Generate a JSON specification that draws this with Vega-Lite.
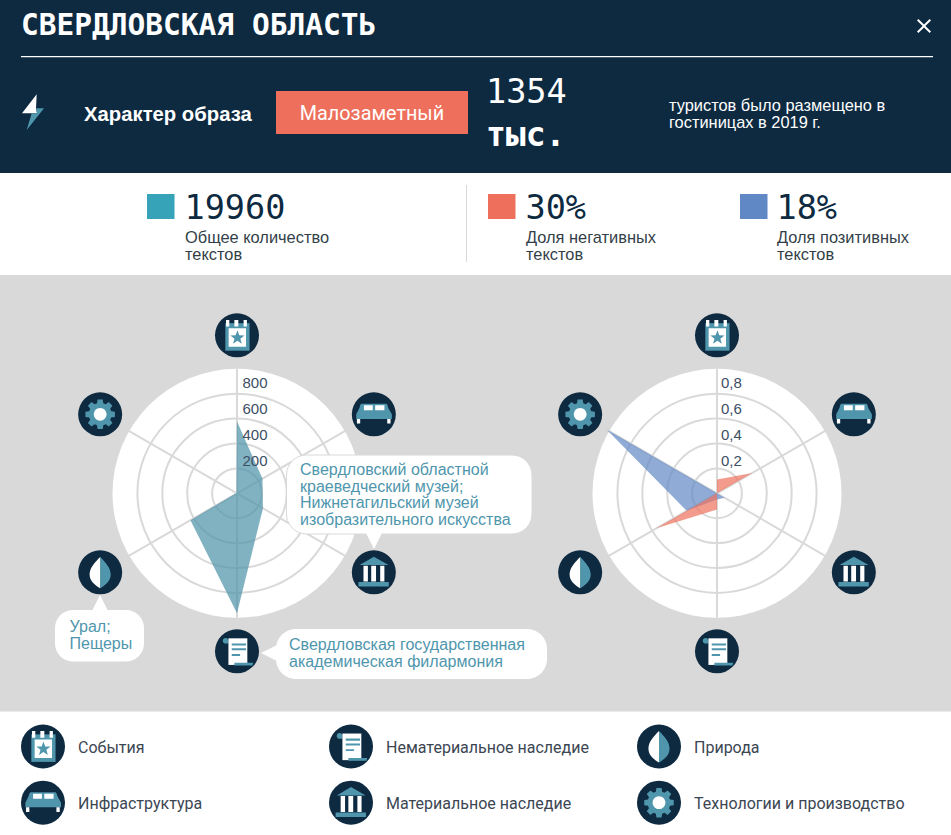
{"$schema":"https://vega.github.io/schema/vega-lite/v6.json","width":951,"height":835,"padding":0,"autosize":{"type":"none"},"background":"#ffffff",
"config":{"view":{"stroke":null},"axis":{"disable":true},"legend":{"disable":true},"text":{"baseline":"alphabetic","align":"left"}},
"datasets":{
"radar":[
{"chart":"tone","series":"positive","axis":"События","order":0,"value":0},
{"chart":"tone","series":"positive","axis":"Инфраструктура","order":1,"value":0},
{"chart":"tone","series":"positive","axis":"Материальное наследие","order":2,"value":0.07},
{"chart":"tone","series":"positive","axis":"Нематериальное наследие","order":3,"value":0.05},
{"chart":"tone","series":"positive","axis":"Природа","order":4,"value":0.28},
{"chart":"tone","series":"positive","axis":"Технологии и производство","order":5,"value":1.02},
{"chart":"tone","series":"negative","axis":"События","order":0,"value":0.11},
{"chart":"tone","series":"negative","axis":"Инфраструктура","order":1,"value":0.325},
{"chart":"tone","series":"negative","axis":"Материальное наследие","order":2,"value":0},
{"chart":"tone","series":"negative","axis":"Нематериальное наследие","order":3,"value":0.13},
{"chart":"tone","series":"negative","axis":"Природа","order":4,"value":0.56},
{"chart":"tone","series":"negative","axis":"Технологии и производство","order":5,"value":0},
{"chart":"volume","series":"volume","axis":"События","order":0,"value":575},
{"chart":"volume","series":"volume","axis":"Инфраструктура","order":1,"value":235},
{"chart":"volume","series":"volume","axis":"Материальное наследие","order":2,"value":240},
{"chart":"volume","series":"volume","axis":"Нематериальное наследие","order":3,"value":960},
{"chart":"volume","series":"volume","axis":"Природа","order":4,"value":430},
{"chart":"volume","series":"volume","axis":"Технологии и производство","order":5,"value":5}],
"ticks":[
{"chart":"volume","tick":200,"label":"200"},{"chart":"volume","tick":400,"label":"400"},{"chart":"volume","tick":600,"label":"600"},{"chart":"volume","tick":800,"label":"800"},{"chart":"volume","tick":1000,"label":""},
{"chart":"tone","tick":0.2,"label":"0,2"},{"chart":"tone","tick":0.4,"label":"0,4"},{"chart":"tone","tick":0.6,"label":"0,6"},{"chart":"tone","tick":0.8,"label":"0,8"},{"chart":"tone","tick":1,"label":""}],
"axes":[
{"axis":"События","order":0,"col":0,"row":0},
{"axis":"Инфраструктура","order":1,"col":0,"row":1},
{"axis":"Материальное наследие","order":2,"col":1,"row":1},
{"axis":"Нематериальное наследие","order":3,"col":1,"row":0},
{"axis":"Природа","order":4,"col":2,"row":0},
{"axis":"Технологии и производство","order":5,"col":2,"row":1}],
"stats":[
{"metric":"total","value":"19960","label":["Общее количество","текстов"],"slot":0},
{"metric":"negative","value":"30%","label":["Доля негативных","текстов"],"slot":1},
{"metric":"positive","value":"18%","label":["Доля позитивных","текстов"],"slot":2}]},
"layer":[
{"data":{"values":[{"panel":"page"}]},"mark":{"type":"rect","fill":"#ffffff"},"encoding":{"x":{"datum":0,"type":"quantitative","scale":{"nice":false,"zero":false,"range":[0,951]}},"x2":{"datum":951},"y":{"datum":0,"type":"quantitative","scale":{"nice":false,"zero":false,"range":[0,835]}},"y2":{"datum":835}}},
{"data":{"values":[{"panel":"header"}]},"mark":{"type":"rect","fill":"#0d2a41"},"encoding":{"x":{"datum":0,"type":"quantitative"},"x2":{"datum":951},"y":{"datum":0,"type":"quantitative"},"y2":{"datum":173}}},
{"data":{"values":[{"panel":"charts"}]},"mark":{"type":"rect","fill":"#d9d9d9"},"encoding":{"x":{"datum":0,"type":"quantitative"},"x2":{"datum":951},"y":{"datum":275,"type":"quantitative"},"y2":{"datum":711.5}}},
{"data":{"values":[{"t":"СВЕРДЛОВСКАЯ ОБЛАСТЬ"}]},"mark":{"type":"text","font":"DejaVu Sans Mono","fontWeight":"bold","fontSize":29.5,"fill":"#ffffff"},"encoding":{"x":{"datum":21,"type":"quantitative"},"y":{"datum":35,"type":"quantitative"},"text":{"field":"t","type":"nominal"}}},
{"data":{"values":[{"p":"rule"}]},"mark":{"type":"rule","stroke":"#ffffff","strokeWidth":1.2},"encoding":{"x":{"datum":21,"type":"quantitative"},"x2":{"datum":933},"y":{"datum":56.7,"type":"quantitative"}}},
{"data":{"values":[{"p":"close"}]},"mark":{"type":"point","filled":true,"fill":"#ffffff","opacity":1,"size":196,"shape":"M-.8,-1L0,-.2L.8,-1L1,-.8L.2,0L1,.8L.8,1L0,.2L-.8,1L-1,.8L-.2,0L-1,-.8Z"},"encoding":{"x":{"datum":924,"type":"quantitative"},"y":{"datum":26,"type":"quantitative"}}},
{"data":{"values":[{"p":"bolt"}]},"mark":{"type":"point","filled":true,"fill":"#ffffff","opacity":1,"size":1600,"shape":"M.185,-.885L-.55,.065L.2,.065L.15,-.185Z"},"encoding":{"x":{"datum":33,"type":"quantitative"},"y":{"datum":112,"type":"quantitative"}}},
{"data":{"values":[{"p":"bolt"}]},"mark":{"type":"point","filled":true,"fill":"#4f96ad","opacity":1,"size":1600,"shape":"M-.315,.9L.55,-.185L.15,-.185L.2,.065L-.065,.065Z"},"encoding":{"x":{"datum":33,"type":"quantitative"},"y":{"datum":112,"type":"quantitative"}}},
{"data":{"values":[{"t":"Характер образа"}]},"mark":{"type":"text","font":"Liberation Sans","fontWeight":"bold","fontSize":20.3,"fill":"#ffffff"},"encoding":{"x":{"datum":84,"type":"quantitative"},"y":{"datum":120.5,"type":"quantitative"},"text":{"field":"t","type":"nominal"}}},
{"data":{"values":[{"p":"badge"}]},"mark":{"type":"rect","fill":"#ee705c"},"encoding":{"x":{"datum":276,"type":"quantitative"},"x2":{"datum":468},"y":{"datum":91,"type":"quantitative"},"y2":{"datum":134}}},
{"data":{"values":[{"t":"Малозаметный"}]},"mark":{"type":"text","font":"Roboto","fontSize":19.8,"fill":"#ffffff","align":"center"},"encoding":{"x":{"datum":372,"type":"quantitative"},"y":{"datum":120,"type":"quantitative"},"text":{"field":"t","type":"nominal"}}},
{"data":{"values":[{"t":"1354"}]},"mark":{"type":"text","font":"DejaVu Sans Mono","fontSize":33.5,"fill":"#ffffff"},"encoding":{"x":{"datum":486,"type":"quantitative"},"y":{"datum":103,"type":"quantitative"},"text":{"field":"t","type":"nominal"}}},
{"data":{"values":[{"t":"тыс."}]},"mark":{"type":"text","font":"DejaVu Sans Mono","fontWeight":"bold","fontSize":33,"fill":"#ffffff"},"encoding":{"x":{"datum":486,"type":"quantitative"},"y":{"datum":146,"type":"quantitative"},"text":{"field":"t","type":"nominal"}}},
{"data":{"values":[{"t":["туристов было размещено в","гостиницах в 2019 г."]}]},"mark":{"type":"text","font":"Liberation Sans","fontSize":16.4,"lineHeight":17,"fill":"#ffffff"},"encoding":{"x":{"datum":669,"type":"quantitative"},"y":{"datum":111,"type":"quantitative"},"text":{"field":"t","type":"nominal"}}},
{"data":{"values":[{"p":"divider"}]},"mark":{"type":"rule","stroke":"#d9d9d9","strokeWidth":1},"encoding":{"x":{"datum":466.5,"type":"quantitative"},"y":{"datum":185,"type":"quantitative"},"y2":{"datum":262}}},
{"data":{"name":"stats"},"mark":{"type":"rect"},"transform":[{"calculate":"[147,488,740][datum.slot]","as":"left"},{"calculate":"datum.left+27.5","as":"right"}],"encoding":{"x":{"field":"left","type":"quantitative"},"x2":{"field":"right"},"y":{"datum":194,"type":"quantitative"},"y2":{"datum":219},"fill":{"field":"metric","type":"nominal","scale":{"domain":["total","negative","positive","volume","navy","base","light","over"],"range":["#36a3b9","#ee705c","#5f88c4","#4c91a6","#0d2a41","#4f96ad","#ffffff","#4f96ad"]}}}},
{"data":{"name":"stats"},"transform":[{"calculate":"[184.5,525.5,776.5][datum.slot]","as":"px"}],"mark":{"type":"text","font":"DejaVu Sans Mono","fontSize":33.5,"fill":"#0d2a41"},"encoding":{"x":{"field":"px","type":"quantitative"},"y":{"datum":219,"type":"quantitative"},"text":{"field":"value","type":"nominal"}}},
{"data":{"name":"stats"},"transform":[{"calculate":"[185,526,777][datum.slot]","as":"px"}],"mark":{"type":"text","font":"Liberation Sans","fontSize":16.4,"lineHeight":17,"fill":"#333f48"},"encoding":{"x":{"field":"px","type":"quantitative"},"y":{"datum":243,"type":"quantitative"},"text":{"field":"label","type":"nominal"}}},
{"data":{"name":"ticks"},"transform":[{"calculate":"datum.chart=='volume'?datum.tick/1000:datum.tick","as":"norm"},{"calculate":"datum.chart=='volume'?237:717","as":"cx"},{"filter":"datum.norm==1"},{"calculate":"493.3","as":"cy"}],"mark":{"type":"point","filled":true,"fill":"#ffffff","opacity":1,"shape":"circle"},"encoding":{"x":{"field":"cx","type":"quantitative"},"y":{"field":"cy","type":"quantitative"},"size":{"field":"norm","type":"quantitative","scale":{"type":"pow","exponent":2,"domain":[0,1],"range":[0,62000]}}}},
{"data":{"name":"ticks"},"transform":[{"calculate":"datum.chart=='volume'?datum.tick/1000:datum.tick","as":"norm"},{"calculate":"datum.chart=='volume'?237:717","as":"cx"},{"filter":"datum.norm<1"},{"calculate":"493.3","as":"cy"}],"mark":{"type":"point","filled":false,"stroke":"#d9d9d9","strokeWidth":2,"opacity":1,"shape":"circle"},"encoding":{"x":{"field":"cx","type":"quantitative"},"y":{"field":"cy","type":"quantitative"},"size":{"field":"norm","type":"quantitative"}}},
{"data":{"name":"axes"},"transform":[{"calculate":"['volume','tone']","as":"chart"},{"flatten":["chart"]},{"calculate":"datum.chart=='volume'?237:717","as":"cx"},{"calculate":"datum.order*PI/3","as":"ang"},{"calculate":"datum.cx+124.5*sin(datum.ang)","as":"ex"},{"calculate":"493.3-124.5*cos(datum.ang)","as":"ey"},{"calculate":"493.3","as":"cy"}],"mark":{"type":"rule","stroke":"#d9d9d9","strokeWidth":2},"encoding":{"x":{"field":"cx","type":"quantitative"},"y":{"field":"cy","type":"quantitative"},"x2":{"field":"ex"},"y2":{"field":"ey"}}},
{"data":{"name":"radar"},"transform":[{"calculate":"datum.chart=='volume'?datum.value/1000:datum.value","as":"norm"},{"calculate":"datum.chart=='volume'?237:717","as":"cx"},{"calculate":"datum.order*PI/3","as":"ang"},{"calculate":"datum.cx+125*datum.norm*sin(datum.ang)","as":"px"},{"calculate":"493.3-125*datum.norm*cos(datum.ang)","as":"py"}],"mark":{"type":"line","interpolate":"linear-closed","stroke":null,"fillOpacity":0.7},"encoding":{"x":{"field":"px","type":"quantitative"},"y":{"field":"py","type":"quantitative"},"order":{"field":"order"},"detail":{"field":"series"},"fill":{"field":"series","type":"nominal"}}},
{"data":{"name":"ticks"},"transform":[{"calculate":"datum.chart=='volume'?datum.tick/1000:datum.tick","as":"norm"},{"filter":"datum.norm<1"},{"calculate":"datum.chart=='volume'?242.5:721","as":"px"},{"calculate":"492-130*datum.norm","as":"py"}],"mark":{"type":"text","font":"Liberation Sans","fontSize":15,"fill":"#3c4e64"},"encoding":{"x":{"field":"px","type":"quantitative"},"y":{"field":"py","type":"quantitative"},"text":{"field":"label","type":"nominal"}}},
{"data":{"values":[{"p":"b1"}]},"mark":{"type":"rect","fill":"#ffffff","stroke":"#d9d9d9","strokeWidth":1,"cornerRadius":20},"encoding":{"x":{"datum":286.5,"type":"quantitative"},"x2":{"datum":532},"y":{"datum":455,"type":"quantitative"},"y2":{"datum":534}}},
{"data":{"values":[{"p":"b1"}]},"mark":{"type":"point","filled":true,"fill":"#ffffff","opacity":1,"size":256,"shape":"M-1,-1L1,-1L0,1Z"},"encoding":{"x":{"datum":374,"type":"quantitative"},"y":{"datum":541,"type":"quantitative"}}},
{"data":{"values":[{"t":["Свердловский областной","краеведческий музей;","Нижнетагильский музей","изобразительного искусства"]}]},"mark":{"type":"text","font":"Liberation Sans","fontSize":16.05,"lineHeight":16.7,"fill":"#4f96ad"},"encoding":{"x":{"datum":300,"type":"quantitative"},"y":{"datum":475,"type":"quantitative"},"text":{"field":"t","type":"nominal"}}},
{"data":{"values":[{"p":"b2"}]},"mark":{"type":"rect","fill":"#ffffff","cornerRadius":20},"encoding":{"x":{"datum":276,"type":"quantitative"},"x2":{"datum":547},"y":{"datum":629,"type":"quantitative"},"y2":{"datum":679}}},
{"data":{"values":[{"p":"b2"}]},"mark":{"type":"point","filled":true,"fill":"#ffffff","opacity":1,"size":324,"angle":90,"shape":"M-1,-1L1,-1L0,1Z"},"encoding":{"x":{"datum":270,"type":"quantitative"},"y":{"datum":653,"type":"quantitative"}}},
{"data":{"values":[{"t":["Свердловская государственная","академическая филармония"]}]},"mark":{"type":"text","font":"Liberation Sans","fontSize":16.05,"lineHeight":16.7,"fill":"#4f96ad"},"encoding":{"x":{"datum":289,"type":"quantitative"},"y":{"datum":650,"type":"quantitative"},"text":{"field":"t","type":"nominal"}}},
{"data":{"values":[{"p":"b3"}]},"mark":{"type":"rect","fill":"#ffffff","cornerRadius":18},"encoding":{"x":{"datum":55,"type":"quantitative"},"x2":{"datum":144},"y":{"datum":610,"type":"quantitative"},"y2":{"datum":661.5}}},
{"data":{"values":[{"p":"b3"}]},"mark":{"type":"point","filled":true,"fill":"#ffffff","opacity":1,"size":256,"angle":180,"shape":"M-1,-1L1,-1L0,1Z"},"encoding":{"x":{"datum":100,"type":"quantitative"},"y":{"datum":603,"type":"quantitative"}}},
{"data":{"values":[{"t":["Урал;","Пещеры"]}]},"mark":{"type":"text","font":"Liberation Sans","fontSize":16.05,"lineHeight":16.7,"fill":"#4f96ad"},"encoding":{"x":{"datum":69.5,"type":"quantitative"},"y":{"datum":632,"type":"quantitative"},"text":{"field":"t","type":"nominal"}}},
{"data":{"name":"axes"},"transform":[{"calculate":"['volume','tone','legend']","as":"chart"},{"flatten":["chart"]},{"calculate":"datum.order*PI/3","as":"ang"},{"calculate":"datum.chart=='legend'?43+308*datum.col:(datum.chart=='volume'?237:717)+158*sin(datum.ang)","as":"px"},{"calculate":"datum.chart=='legend'?746.5+56.2*datum.row:493.3-158*cos(datum.ang)","as":"py"},{"calculate":"['navy','base','light','over']","as":"part"},{"flatten":["part"]},{"calculate":"datum.part=='navy'?'navy':datum.part+':'+datum.axis","as":"glyph"}],"mark":{"type":"point","filled":true,"opacity":1,"size":1936},"encoding":{"x":{"field":"px","type":"quantitative"},"y":{"field":"py","type":"quantitative"},"fill":{"field":"part","type":"nominal"},
"shape":{"field":"glyph","type":"nominal","scale":{"domain":["navy",
"base:События","light:События","over:События",
"base:Инфраструктура","light:Инфраструктура","over:Инфраструктура",
"base:Материальное наследие","light:Материальное наследие","over:Материальное наследие",
"base:Нематериальное наследие","light:Нематериальное наследие","over:Нематериальное наследие",
"base:Природа","light:Природа","over:Природа",
"base:Технологии и производство","light:Технологии и производство","over:Технологии и производство"],
"range":["circle",
"M-.53,-.55H.57V.7H-.53Z","M-.38,-.32H.41V.52H-.38ZM-.5,-.7H-.35V-.4H-.5ZM-.12,-.7H.06V-.4H-.12ZM.3,-.7H.45V-.4H.3Z","M.02,-.23L.102,-.003L.343,.005L.153,.153L.22,.385L.02,.25L-.18,.385L-.113,.153L-.303,.005L-.062,-.003Z",
"M-.55,-.48L.55,-.48Q.62,-.48.65,-.3L.82,0L.82,.21L-.8,.21L-.8,0L-.65,-.3Q-.62,-.48-.55,-.48Z","M-.45,-.41H-.05V-.18H-.45ZM.06,-.41H.48V-.18H.06ZM-.77,.21H-.62V.42H-.77ZM.61,.21H.76V.42H.61Z","M0,0",
"M0,-.71L.67,-.33H-.65ZM-.7,.44H.68V.65H-.7Z","M-.47,-.3H-.27V.42H-.47ZM-.12,-.3H.1V.42H-.12ZM.29,-.3H.48V.42H.29Z","M0,0",
"M-.65,-.48A.13,.13 0 1 1 -.39,-.48L-.39,-.35L-.52,-.35A.13,.13 0 0 1 -.65,-.48Z","M-.39,-.59H.47V.62H-.39Z","M-.24,-.36H.41V-.26H-.24ZM-.24,-.14H.41V-.05H-.24ZM-.24,.12H.14V.21H-.24ZM-.12,.52H.74L.7,.65H-.12Z",
"M0,-.7C.25,-.45.48,-.2.48,.1C.48,.42.2,.6,0,.73Z","M0,-.7C-.25,-.45-.48,-.2-.48,.1C-.48,.42-.2,.6,0,.73Z","M0,0",
"M.5,-.143L.67,-.118L.67,.118L.5,.143L.455,.252L.557,.39L.39,.557L.252,.455L.143,.5L.118,.67L-.118,.67L-.143,.5L-.252,.455L-.39,.557L-.557,.39L-.455,.252L-.5,.143L-.67,.118L-.67,-.118L-.5,-.143L-.455,-.252L-.557,-.39L-.39,-.557L-.252,-.455L-.143,-.5L-.118,-.67L.118,-.67L.143,-.5L.252,-.455L.39,-.557L.557,-.39L.455,-.252Z","M.29,0A.29,.29 0 1 1 -.29,0A.29,.29 0 1 1 .29,0Z","M0,0"]}}}},
{"data":{"name":"axes"},"transform":[{"calculate":"78+308*datum.col","as":"px"},{"calculate":"752.5+56.2*datum.row","as":"py"}],"mark":{"type":"text","font":"Roboto","fontSize":16,"fill":"#3c4653"},"encoding":{"x":{"field":"px","type":"quantitative"},"y":{"field":"py","type":"quantitative"},"text":{"field":"axis","type":"nominal"}}}
]}
